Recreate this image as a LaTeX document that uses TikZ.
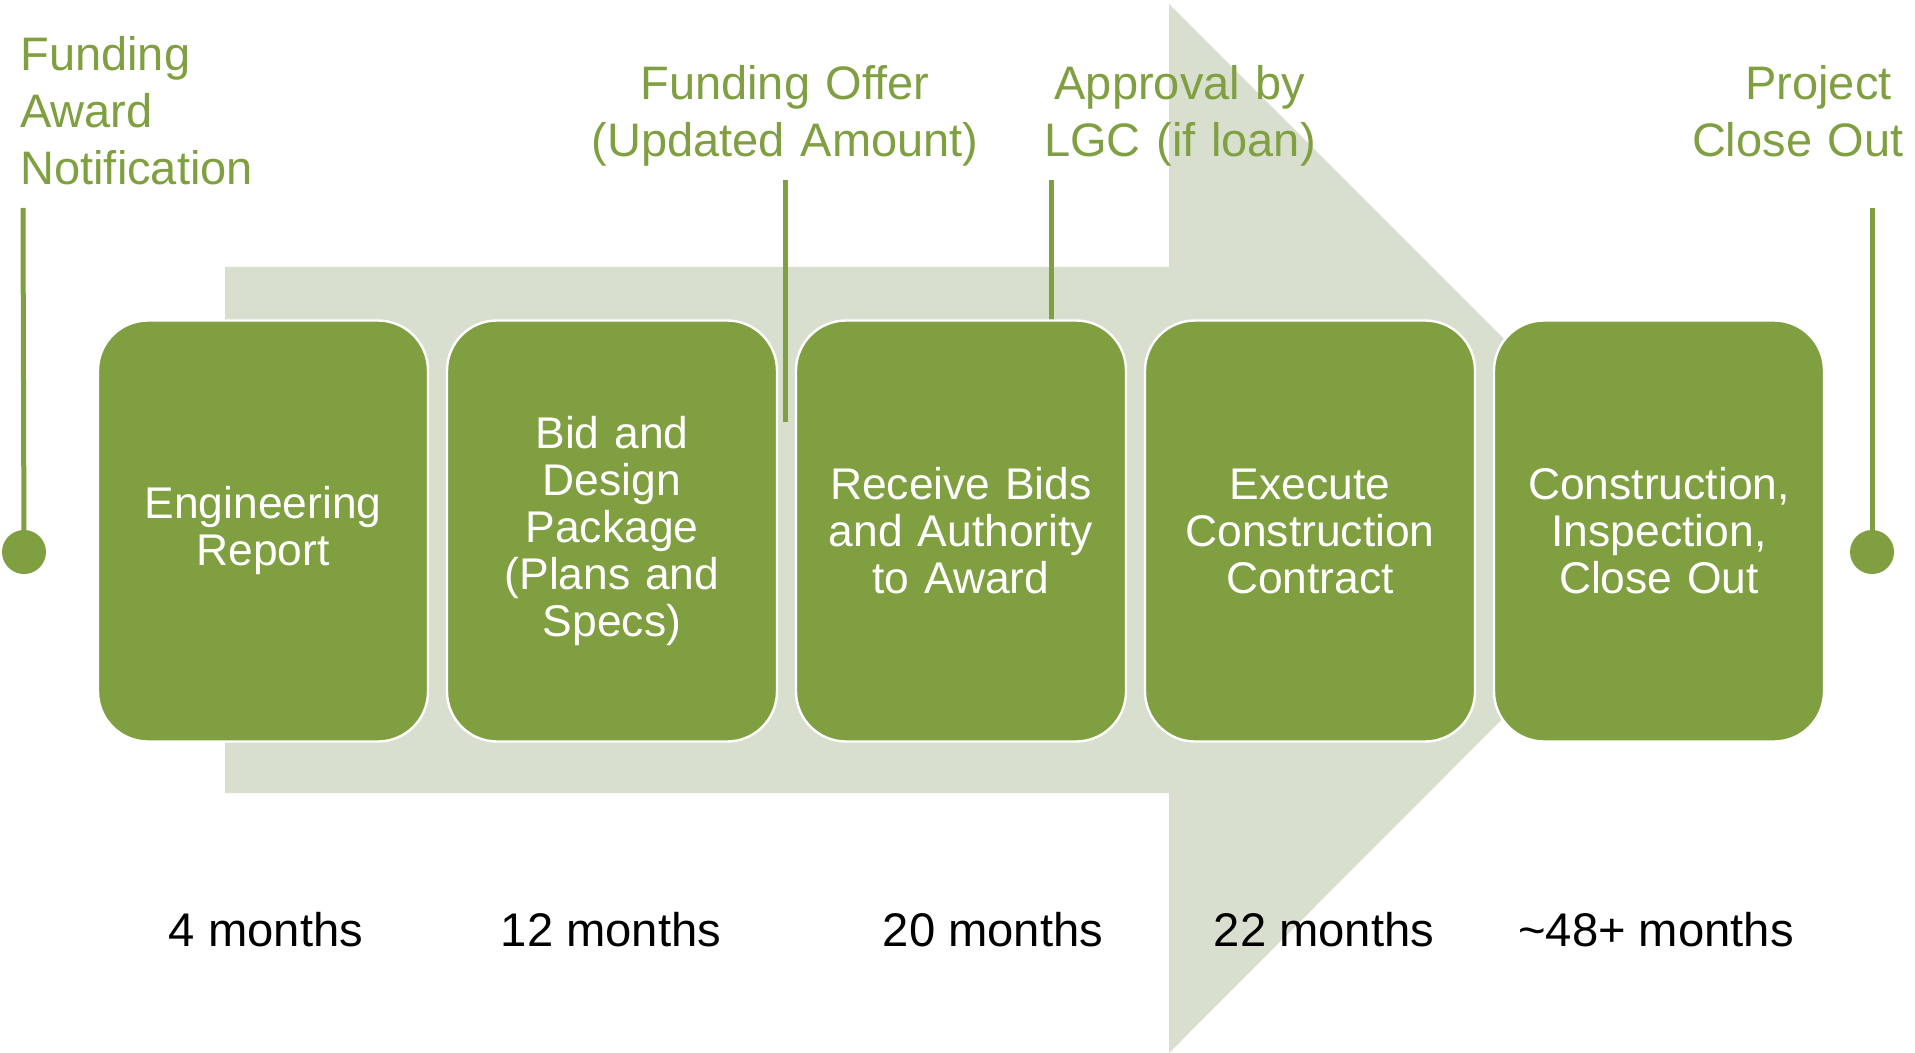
\documentclass[tikz,border=0pt]{standalone}
\usepackage{fontspec}
\setmainfont{Liberation Sans}
\definecolor{olive}{RGB}{127,159,64}
\definecolor{paleolive}{RGB}{216,223,206}
\tikzset{
  stepbox/.style={draw=white, line width=1.2pt, fill=olive, rounded corners=25pt,
    minimum width=165pt, minimum height=210.5pt, text width=150pt, align=center,
    text=white, inner sep=0pt, font=\fontsize{22.2pt}{23.5pt}\selectfont},
  milestone/.style={text=olive, inner sep=0pt, font=\fontsize{23.5pt}{28.5pt}\selectfont},
  duration/.style={text=black, inner sep=0pt, anchor=base, font=\fontsize{23.6pt}{28.5pt}\selectfont},
  tick/.style={draw=olive, line width=2.5pt},
  dot/.style={circle, fill=olive, minimum size=22pt, inner sep=0pt}
}
\begin{document}
\begin{tikzpicture}[x=0.5pt, y=-0.5pt]
\useasboundingbox (0,0) rectangle (1915,1053);
% big background arrow
\fill[paleolive] (225,267) -- (1169,267) -- (1169,4) -- (1693,528) -- (1169,1053) -- (1169,793) -- (225,793) -- cycle;
% milestone coordinates
\coordinate (t1) at (23,208);
\coordinate (t2) at (785.5,180);
\coordinate (b2) at (785.5,422);
\coordinate (t3) at (1051.5,180);
\coordinate (b3) at (1051.5,322);
\coordinate (t4) at (1872,208);
\draw[tick] (t2) -- (b2);
\draw[tick] (t3) -- (b3);
% step boxes
\node[stepbox] (s1) at (263,531) {Engineering\\Report};
\node[stepbox] (s2) at (612,531) {Bid and\\Design\\Package\\(Plans and\\Specs)};
\node[stepbox] (s3) at (961,531) {Receive Bids\\and Authority\\to Award};
\node[stepbox] (s4) at (1310,531) {Execute\\Construction\\Contract};
\node[stepbox] (s5) at (1659,531) {Construction,\\Inspection,\\Close Out};
% end dots
\node[dot] (d1) at (24,552) {};
\node[dot] (d4) at (1872,552) {};
\draw[tick] (t1) -- (d1.center);
\draw[tick] (t4) -- (d4.center);
% milestone labels
\node[milestone, anchor=base west, text width=130pt, align=left] (m1) at (20,71) {Funding\\Award\\Notification};
\node[milestone, anchor=base, text width=210pt, align=center] (m2) at (785,100) {Funding Offer\\(Updated Amount)};
\node[milestone, anchor=base, text width=170pt, align=center] (m3) at (1180,100) {Approval by\\LGC (if loan)};
\node[milestone, anchor=base east, text width=130pt, align=right] (m4) at (1904,100) {Project\kern6pt\\Close Out};
% durations
\node[duration] (r1) at (266,946) {4 months};
\node[duration] (r2) at (611,946) {12 months};
\node[duration] (r3) at (993,946) {20 months};
\node[duration] (r4) at (1324,946) {22 months};
\node[duration] (r5) at (1656,946) {\textasciitilde48+ months};
\end{tikzpicture}
\end{document}
